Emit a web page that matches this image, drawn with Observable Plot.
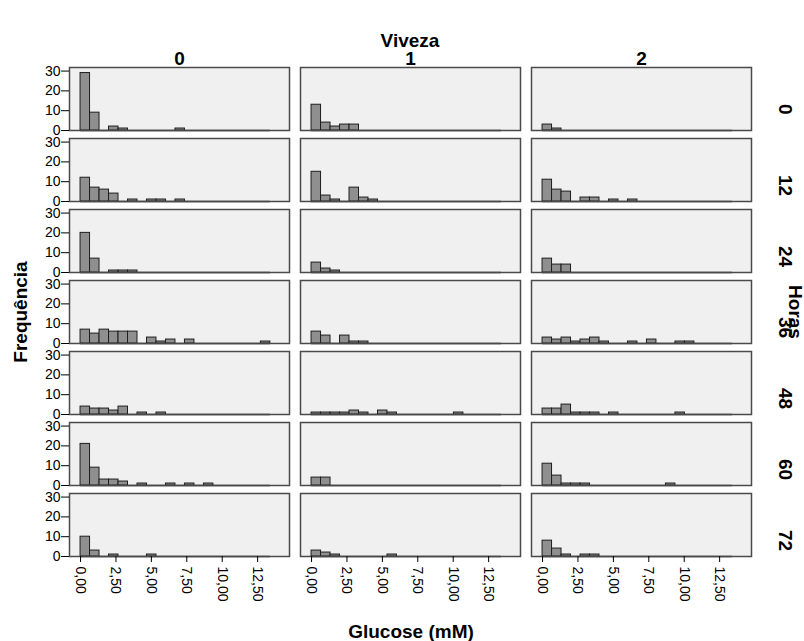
<!DOCTYPE html>
<html><head><meta charset="utf-8">
<script src="https://cdn.jsdelivr.net/npm/d3@7"></script>
<script src="https://cdn.jsdelivr.net/npm/@observablehq/plot@0.6"></script>
<style>body{margin:0;background:#fff;}</style>
</head><body><div id="chart"></div>
<script>
const viveza = ["0", "1", "2"];
const horas = ["0", "12", "24", "36", "48", "60", "72"];
const binWidth = 0.67;
const binCount = 20;
const xTicks = [0, 2.5, 5, 7.5, 10, 12.5];
const yTicks = [0, 10, 20, 30];

// counts per bin (bin k covers [k*binWidth, (k+1)*binWidth)), one list per Horas row
const countsViveza0 = [
  [29, 9, 0, 2, 1, 0, 0, 0, 0, 0, 1],
  [12, 7, 6, 4, 0, 1, 0, 1, 1, 0, 1],
  [20, 7, 0, 1, 1, 1],
  [7, 5, 7, 6, 6, 6, 0, 3, 1, 2, 0, 2, 0, 0, 0, 0, 0, 0, 0, 1],
  [4, 3, 3, 2, 4, 0, 1, 0, 1],
  [21, 9, 3, 3, 2, 0, 1, 0, 0, 1, 0, 1, 0, 1],
  [10, 3, 0, 1, 0, 0, 0, 1]
];
const countsViveza1 = [
  [13, 4, 2, 3, 3],
  [15, 3, 1, 0, 7, 2, 1],
  [5, 2, 1],
  [6, 4, 0, 4, 1, 1],
  [1, 1, 1, 1, 2, 1, 0, 2, 1, 0, 0, 0, 0, 0, 0, 1],
  [4, 4],
  [3, 2, 1, 0, 0, 0, 0, 0, 1]
];
const countsViveza2 = [
  [3, 1],
  [11, 6, 5, 0, 2, 2, 0, 1, 0, 1],
  [7, 4, 4],
  [3, 2, 3, 1, 2, 3, 1, 0, 0, 1, 0, 2, 0, 0, 1, 1],
  [3, 3, 5, 1, 1, 1, 0, 1, 0, 0, 0, 0, 0, 0, 1],
  [11, 5, 1, 1, 1, 0, 0, 0, 0, 0, 0, 0, 0, 1],
  [8, 4, 1, 0, 1, 1]
];
const columns = [countsViveza0, countsViveza1, countsViveza2];

const bins = [];
const baselines = [];
viveza.forEach((v, i) => horas.forEach((h, j) => {
  const c = columns[i][j];
  for (let k = 0; k < binCount; k++) {
    const n = c[k] || 0;
    if (n > 0) bins.push({viveza: v, horas: h, x1: k * binWidth, x2: (k + 1) * binWidth, count: n});
  }
  baselines.push({viveza: v, horas: h, x1: 0, x2: binCount * binWidth});
}));
const colLabels = viveza.map(v => ({viveza: v, horas: horas[0], label: v}));
const rowLabels = horas.map(h => ({viveza: viveza[viveza.length - 1], horas: h, label: h}));

const font = "'Liberation Sans', Arial, sans-serif";
const fmt = d => d3.format(".2f")(d).replace(".", ",");

const plot = Plot.plot({
  width: 804, height: 641,
  marginLeft: 69, marginRight: 53, marginTop: 67, marginBottom: 84,
  style: {fontFamily: font, fontSize: "14px", color: "#000", background: "#fff"},
  fx: {domain: viveza, paddingInner: 0.048, paddingOuter: 0, axis: null},
  fy: {domain: horas, paddingInner: 0.112, paddingOuter: 0, axis: null},
  x: {domain: [-0.78, 14.75]},
  y: {domain: [0, 31.8]},
  marks: [
    Plot.frame({fill: "#f0f0f0", stroke: "none"}),
    Plot.ruleY(baselines, {fx: "viveza", fy: "horas", x1: "x1", x2: "x2", y: 0, stroke: "#222", strokeWidth: 1.5}),
    Plot.rect(bins, {fx: "viveza", fy: "horas", x1: "x1", x2: "x2", y1: 0, y2: "count", fill: "#8f8f8f", stroke: "#1e1e1e", strokeWidth: 1}),
    Plot.frame({stroke: "#4a4a4a", strokeWidth: 1.5}),
    Plot.axisY({ticks: yTicks, tickSize: 8, tickPadding: 1, fontSize: 14, label: null}),
    Plot.axisX({ticks: xTicks, tickSize: 6, tickPadding: 4, tickRotate: 90, textAnchor: "start", tickFormat: fmt, fontSize: 14, label: null}),
    Plot.text(colLabels, {fx: "viveza", fy: "horas", text: "label", frameAnchor: "top", lineAnchor: "bottom", dy: -3, fontSize: 19, fontWeight: "bold"}),
    Plot.text(rowLabels, {fx: "viveza", fy: "horas", text: "label", frameAnchor: "right", rotate: 90, textAnchor: "start", dx: 34, dy: 5, fontSize: 19, fontWeight: "bold"})
  ]
});
document.getElementById("chart").appendChild(plot);

const svg = d3.select(plot);
const addTitle = (text, x, y, rotate) => svg.append("text")
  .attr("transform", `translate(${x},${y}) rotate(${rotate})`)
  .attr("text-anchor", "middle")
  .attr("dominant-baseline", "central")
  .style("font-family", font).style("font-size", "19px").style("font-weight", "bold")
  .attr("fill", "#000")
  .text(text);
addTitle("Viveza", 410, 40, 0);
addTitle("Glucose (mM)", 411, 631, 0);
addTitle("Frequência", 20, 312, -90);
addTitle("Horas", 795, 312, 90);
</script>
</body></html>
